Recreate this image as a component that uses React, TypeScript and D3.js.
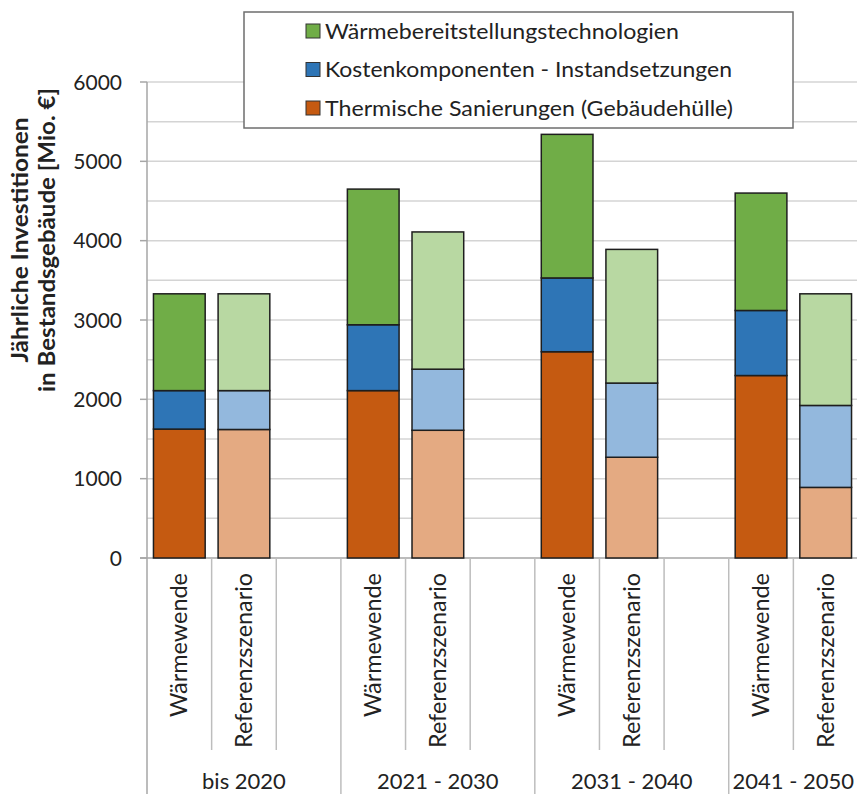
import React from 'react';
import * as d3 from 'd3';

const periods = ['bis 2020', '2021 - 2030', '2031 - 2040', '2041 - 2050'];
const scenarios = ['Wärmewende', 'Referenzszenario'];
const seriesKeys = ['thermisch', 'kosten', 'waerme'];
const legendNames = [
  'Wärmebereitstellungstechnologien',
  'Kostenkomponenten - Instandsetzungen',
  'Thermische Sanierungen (Gebäudehülle)',
];

// Wärmewende scenario (Mio. €)
const thermischWW = [1625, 2110, 2600, 2300];
const kostenWW = [485, 830, 930, 820];
const waermeWW = [1220, 1710, 1810, 1480];
// Referenzszenario (Mio. €)
const thermischRef = [1620, 1610, 1270, 890];
const kostenRef = [490, 770, 935, 1033];
const waermeRef = [1220, 1730, 1685, 1407];

const yTicks = [0, 1000, 2000, 3000, 4000, 5000, 6000];
const gridValues = [500, 1000, 1500, 2000, 2500, 3000, 3500, 4000, 4500, 5000, 5500, 6000];

const darkColors: Record<string, string> = { thermisch: '#C55A11', kosten: '#2E75B6', waerme: '#70AD47' };
const lightColors: Record<string, string> = { thermisch: '#E4AA82', kosten: '#93B8DD', waerme: '#B8D8A2' };
const legendColors = ['#70AD47', '#2E75B6', '#C55A11'];
const legendLengths = [354, 407, 408];
const scenarioLengths = [144, 175];

const FONT = 'Lato, "Open Sans", sans-serif';

export default function App() {
  const W = 857, H = 794;
  const left = 147, right = 858, top = 82, bottom = 558;

  const slots: string[] = [];
  periods.forEach((p, i) => {
    slots.push(p + '|0', p + '|1');
    if (i < periods.length - 1) slots.push(p + '|gap');
  });
  const x = d3.scaleBand<string>().domain(slots).range([left, right]).paddingInner(0).paddingOuter(0);
  const bw = x.bandwidth();
  const y = d3.scaleLinear().domain([0, 6000]).range([bottom, top]);

  const rows: any[] = [];
  periods.forEach((p, i) => {
    rows.push({ slot: p + '|0', scen: 0, thermisch: thermischWW[i], kosten: kostenWW[i], waerme: waermeWW[i] });
    rows.push({ slot: p + '|1', scen: 1, thermisch: thermischRef[i], kosten: kostenRef[i], waerme: waermeRef[i] });
  });
  const stacked = d3.stack<any>().keys(seriesKeys)(rows);

  const groupStart = periods.map((p) => x(p + '|0') as number);
  const groupEnd = periods.map((p, i) => (x(p + '|1') as number) + bw + (i < periods.length - 1 ? bw : 0));

  return (
    <svg width={W} height={H} style={{ position: 'absolute', left: 0, top: 0, background: '#fff' }} fontFamily={FONT}>
      <rect x={0} y={0} width={W} height={H} fill="#fff" />
      {gridValues.map((v) => (
        <line key={'g' + v} x1={left} x2={right} y1={y(v)} y2={y(v)} stroke="#D4D4D4" strokeWidth={1.5} />
      ))}
      <line x1={left} x2={left} y1={top} y2={H} stroke="#A6A6A6" strokeWidth={1.5} />
      {yTicks.map((v) => (
        <g key={'t' + v}>
          <line x1={left - 7} x2={left} y1={y(v)} y2={y(v)} stroke="#A6A6A6" strokeWidth={1.5} />
          <text x={122} y={y(v)} dy="0.36em" textAnchor="end" fontSize={21} fill="#222">{v}</text>
        </g>
      ))}
      <line x1={left - 7} x2={right} y1={bottom} y2={bottom} stroke="#A6A6A6" strokeWidth={1.5} />
      {slots.map((s, i) => {
        if (i === 0) return null;
        const xx = x(s) as number;
        const isGroup = s.endsWith('|0');
        return <line key={'s' + s} x1={xx} x2={xx} y1={bottom} y2={isGroup ? H : 750} stroke="#BDBDBD" strokeWidth={1.5} />;
      })}
      {stacked.map((layer) => (
        <g key={layer.key}>
          {layer.map((d, j) => {
            const row = d.data;
            const xx = (x(row.slot) as number) + bw * 0.1;
            return (
              <rect
                key={j}
                x={xx}
                y={y(d[1])}
                width={bw * 0.8}
                height={y(d[0]) - y(d[1])}
                fill={row.scen === 0 ? darkColors[layer.key] : lightColors[layer.key]}
                stroke="#1E1E1E"
                strokeWidth={1.5}
              />
            );
          })}
        </g>
      ))}
      {periods.map((p) =>
        scenarios.map((sc, k) => {
          const cx = (x(p + '|' + k) as number) + bw / 2;
          return (
            <text
              key={p + sc}
              transform={`translate(${cx},573) rotate(-90)`}
              dy="0.35em"
              textAnchor="end"
              fontSize={22.5}
              textLength={scenarioLengths[k]}
              lengthAdjust="spacingAndGlyphs"
              fill="#222"
            >
              {sc}
            </text>
          );
        })
      )}
      {periods.map((p, i) => (
        <text key={'p' + p} x={(groupStart[i] + groupEnd[i]) / 2} y={789} textAnchor="middle" fontSize={22} fill="#222">
          {p}
        </text>
      ))}
      <text
        transform="translate(28,240) rotate(-90)"
        textAnchor="middle"
        fontSize={22}
        fontWeight="bold"
        textLength={245}
        lengthAdjust="spacingAndGlyphs"
        fill="#222"
      >
        Jährliche Investitionen
      </text>
      <text
        transform="translate(55,240) rotate(-90)"
        textAnchor="middle"
        fontSize={22}
        fontWeight="bold"
        textLength={304}
        lengthAdjust="spacingAndGlyphs"
        fill="#222"
      >
        in Bestandsgebäude [Mio. €]
      </text>
      <rect x={244} y={12} width={549} height={116} fill="#fff" stroke="#6E6E6E" strokeWidth={1.5} />
      {legendNames.map((n, i) => (
        <g key={n}>
          <rect x={306} y={24 + i * 38.5} width={14} height={14} fill={legendColors[i]} stroke="#333" strokeWidth={1} />
          <text
            x={325}
            y={31 + i * 38.5}
            dy="0.36em"
            fontSize={21}
            textLength={legendLengths[i]}
            lengthAdjust="spacingAndGlyphs"
            fill="#222"
          >
            {n}
          </text>
        </g>
      ))}
    </svg>
  );
}
